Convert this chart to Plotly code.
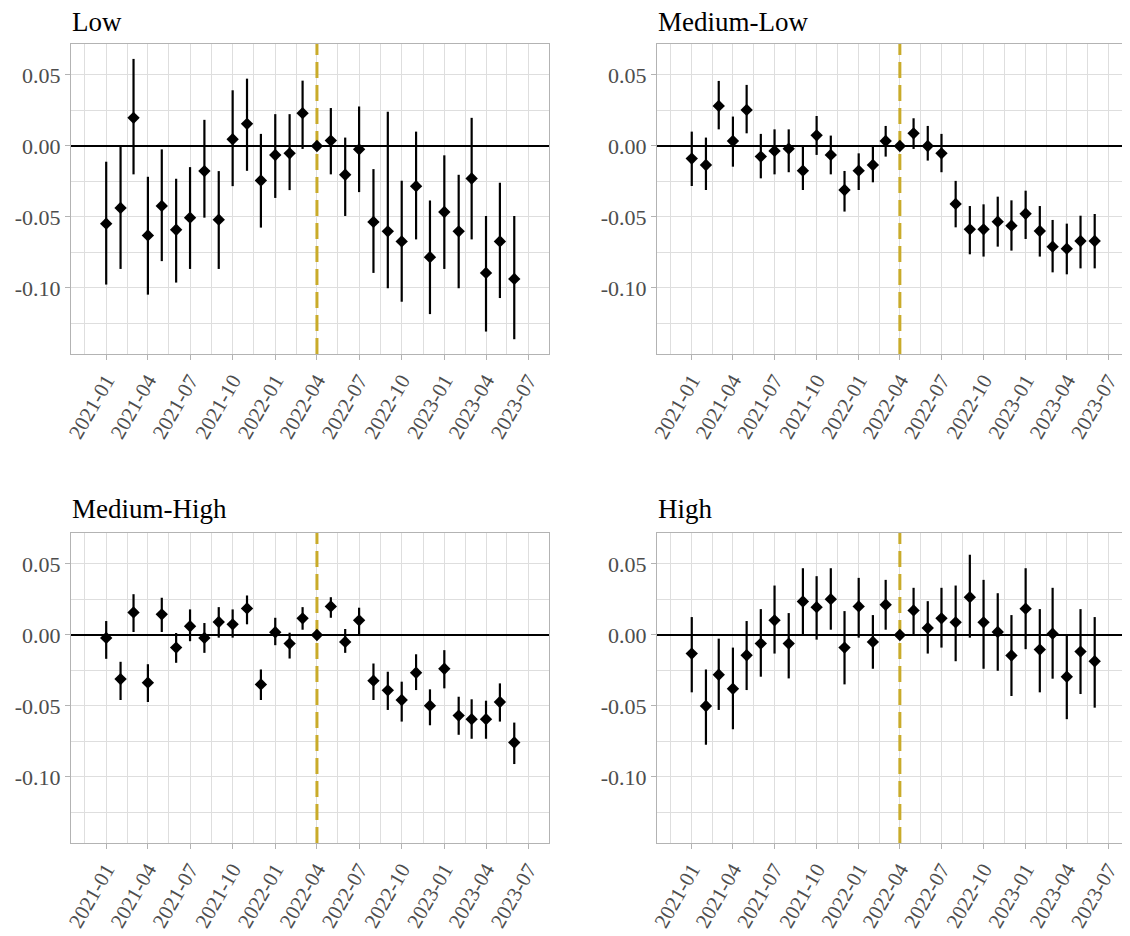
import plotly.graph_objects as go
from plotly.subplots import make_subplots

months = ["2021-01-01","2021-02-01","2021-03-01","2021-04-01","2021-05-01","2021-06-01",
          "2021-07-01","2021-08-01","2021-09-01","2021-10-01","2021-11-01","2021-12-01",
          "2022-01-01","2022-02-01","2022-03-01","2022-04-01","2022-05-01","2022-06-01",
          "2022-07-01","2022-08-01","2022-09-01","2022-10-01","2022-11-01","2022-12-01",
          "2023-01-01","2023-02-01","2023-03-01","2023-04-01","2023-05-01","2023-06-01"]

panel_titles = ["Low", "Medium-Low", "Medium-High", "High"]

low_est = [-0.0547,-0.0436,0.0198,-0.0630,-0.0422,-0.0590,-0.0505,-0.0177,-0.0519,0.0047,0.0156,-0.0243,-0.0064,-0.0052,0.0231,0.0,0.0038,-0.0203,-0.0024,-0.0535,-0.0601,-0.0672,-0.0283,-0.0783,-0.0465,-0.0601,-0.0229,-0.0894,-0.0672,-0.0936]
low_lo = [-0.0976,-0.0866,-0.0200,-0.1047,-0.0811,-0.0962,-0.0866,-0.0505,-0.0866,-0.0283,-0.0175,-0.0575,-0.0366,-0.0311,-0.0021,0.0,-0.0200,-0.0493,-0.0325,-0.0894,-0.1002,-0.1097,-0.0658,-0.1184,-0.0866,-0.1002,-0.0658,-0.1307,-0.1071,-0.1361]
low_hi = [-0.0111,0.0,0.0613,-0.0217,-0.0024,-0.0231,-0.0149,0.0184,-0.0177,0.0392,0.0474,0.0085,0.0224,0.0224,0.0460,0.0,0.0267,0.0059,0.0278,-0.0163,0.0241,-0.0245,0.0101,-0.0384,-0.0066,-0.0203,0.0198,-0.0493,-0.0259,-0.0493]

medlow_est = [-0.0089,-0.0134,0.0282,0.0035,0.0254,-0.0075,-0.0035,-0.0019,-0.0174,0.0075,-0.0063,-0.0310,-0.0174,-0.0134,0.0035,0.0,0.0089,0.0,-0.0052,-0.0408,-0.0587,-0.0587,-0.0533,-0.0561,-0.0477,-0.0599,-0.0709,-0.0723,-0.0669,-0.0669]
medlow_lo = [-0.0282,-0.0310,0.0117,-0.0146,0.0089,-0.0228,-0.0200,-0.0185,-0.0310,-0.0063,-0.0200,-0.0462,-0.0310,-0.0256,-0.0075,0.0,-0.0021,-0.0103,-0.0185,-0.0573,-0.0763,-0.0779,-0.0709,-0.0737,-0.0655,-0.0779,-0.0890,-0.0904,-0.0862,-0.0862]
medlow_hi = [0.0101,0.0059,0.0458,0.0207,0.0430,0.0085,0.0117,0.0117,0.0,0.0211,0.0073,-0.0176,-0.0052,0.0,0.0141,0.0,0.0195,0.0141,0.0085,-0.0246,-0.0423,-0.0411,-0.0357,-0.0383,-0.0315,-0.0423,-0.0521,-0.0547,-0.0491,-0.0479]

medhigh_est = [-0.0021,-0.0311,0.0159,-0.0336,0.0145,-0.0089,0.0061,-0.0021,0.0091,0.0075,0.0187,-0.0348,0.0019,-0.0061,0.0117,0.0,0.0201,-0.0049,0.0103,-0.0322,-0.0390,-0.0458,-0.0266,-0.0498,-0.0238,-0.0568,-0.0593,-0.0593,-0.0472,-0.0757]
medhigh_lo = [-0.0168,-0.0458,0.0021,-0.0472,0.0021,-0.0196,-0.0044,-0.0126,-0.0019,-0.0019,0.0075,-0.0458,-0.0072,-0.0166,0.0037,0.0,0.0121,-0.0126,0.0,-0.0458,-0.0528,-0.0610,-0.0388,-0.0636,-0.0376,-0.0703,-0.0731,-0.0731,-0.0610,-0.0909]
medhigh_hi = [0.0098,-0.0189,0.0287,-0.0206,0.0262,0.0014,0.0180,0.0084,0.0196,0.0180,0.0278,-0.0243,0.0121,0.0016,0.0196,0.0,0.0266,0.0042,0.0192,-0.0201,-0.0259,-0.0329,-0.0136,-0.0383,-0.0107,-0.0435,-0.0453,-0.0463,-0.0341,-0.0617]

high_est = [-0.0131,-0.0500,-0.0280,-0.0379,-0.0143,-0.0061,0.0103,-0.0061,0.0236,0.0196,0.0252,-0.0089,0.0201,-0.0049,0.0213,0.0,0.0173,0.0049,0.0117,0.0089,0.0266,0.0089,0.0021,-0.0145,0.0185,-0.0103,0.0009,-0.0294,-0.0117,-0.0185]
high_lo = [-0.0404,-0.0773,-0.0528,-0.0664,-0.0388,-0.0294,-0.0131,-0.0306,0.0,-0.0033,0.0037,-0.0348,-0.0019,-0.0238,0.0037,0.0,0.0005,-0.0131,-0.0089,-0.0185,-0.0019,-0.0238,-0.0252,-0.0430,-0.0100,-0.0404,-0.0308,-0.0593,-0.0416,-0.0512]
high_hi = [0.0126,-0.0243,-0.0026,-0.0089,0.0098,0.0182,0.0348,0.0154,0.0470,0.0414,0.0470,0.0168,0.0402,0.0140,0.0388,0.0,0.0332,0.0238,0.0332,0.0348,0.0565,0.0388,0.0294,0.0140,0.0470,0.0182,0.0332,0.0,0.0182,0.0126]

y_tickvals = [0.05, 0.0, -0.05, -0.10]
y_ticktext = ["0.05", "0.00", "-0.05", "-0.10"]
y_range = [-0.1465, 0.0718]
x_range = ["2020-10-17", "2023-08-15"]
event_date = "2022-04-01"

series = [(low_est, low_lo, low_hi), (medlow_est, medlow_lo, medlow_hi),
          (medhigh_est, medhigh_lo, medhigh_hi), (high_est, high_lo, high_hi)]

FONT = "Liberation Serif, Times New Roman, serif"
GRID = "#dedede"
BORDER = "#b3b3b3"
W, H = 1130, 936
OFF = 8  # page body margin

fig = make_subplots(rows=2, cols=2)

xdom = [[(71 - OFF) / W, (549 - OFF) / W], [(657 - OFF) / W, (1129 - OFF) / W]]
ydom_top = [1 - (354 - OFF) / H, 1 - (44 - OFF) / H]
ydom_bot = [1 - (843 - OFF) / H, 1 - (533 - OFF) / H]
title_y = [1 - (22 - OFF) / H, 1 - (509 - OFF) / H]

positions = [(1, 1), (1, 2), (2, 1), (2, 2)]
for i, ((est, lo, hi), (r, c)) in enumerate(zip(series, positions)):
    # dashed reference line at the event month (drawn first, under the points)
    fig.add_trace(go.Scatter(
        x=[event_date, event_date], y=y_range, mode="lines",
        line=dict(color="#c9ab2a", width=3, dash="16px,7px"),
        hoverinfo="skip", showlegend=False), row=r, col=c)
    plus = [h - e for e, h in zip(est, hi)]
    minus = [e - l for e, l in zip(est, lo)]
    fig.add_trace(go.Scatter(
        x=months, y=est, mode="markers",
        marker=dict(symbol="diamond", size=9.5, color="black"),
        error_y=dict(type="data", symmetric=False, array=plus, arrayminus=minus,
                     color="black", thickness=2.2, width=0),
        showlegend=False), row=r, col=c)

for i, (r, c) in enumerate(positions):
    idx = i + 1
    xa = "xaxis" if idx == 1 else f"xaxis{idx}"
    ya = "yaxis" if idx == 1 else f"yaxis{idx}"
    fig.layout[xa].update(
        domain=xdom[c - 1], type="date", automargin=False,
        range=x_range,
        tick0="2021-01-01", dtick="M3", tickformat="%Y-%m", tickangle=-60,
        showgrid=True, gridcolor=GRID, gridwidth=1,
        minor=dict(tick0="2020-11-16", dtick="M3", showgrid=True, gridcolor=GRID, gridwidth=1),
        ticks="outside", ticklen=5, tickcolor=BORDER,
        showline=True, linecolor=BORDER, linewidth=1, mirror=True,
        zeroline=False,
        tickfont=dict(family=FONT, size=21, color="#4d4d4d"))
    fig.layout[ya].update(
        domain=ydom_top if r == 1 else ydom_bot, automargin=False,
        range=y_range,
        tickmode="array", tickvals=y_tickvals, ticktext=y_ticktext,
        showgrid=True, gridcolor=GRID, gridwidth=1,
        minor=dict(tickmode="linear", tick0=0.025, dtick=0.05, showgrid=True, gridcolor=GRID, gridwidth=1),
        ticks="outside", ticklen=5, tickcolor=BORDER,
        showline=True, linecolor=BORDER, linewidth=1, mirror=True,
        zeroline=True, zerolinecolor="black", zerolinewidth=1.6,
        tickfont=dict(family=FONT, size=22, color="#4d4d4d"))
    fig.add_annotation(text=panel_titles[i], xref="paper", yref="paper",
                       x=xdom[c - 1][0] - 1 / W, y=title_y[r - 1],
                       xanchor="left", yanchor="middle", showarrow=False,
                       font=dict(family=FONT, size=27, color="black"))

fig.update_layout(width=W, height=H, margin=dict(l=0, r=0, t=0, b=0),
                  plot_bgcolor="white", paper_bgcolor="white",
                  font=dict(family=FONT))

fig.write_html("out.html")
